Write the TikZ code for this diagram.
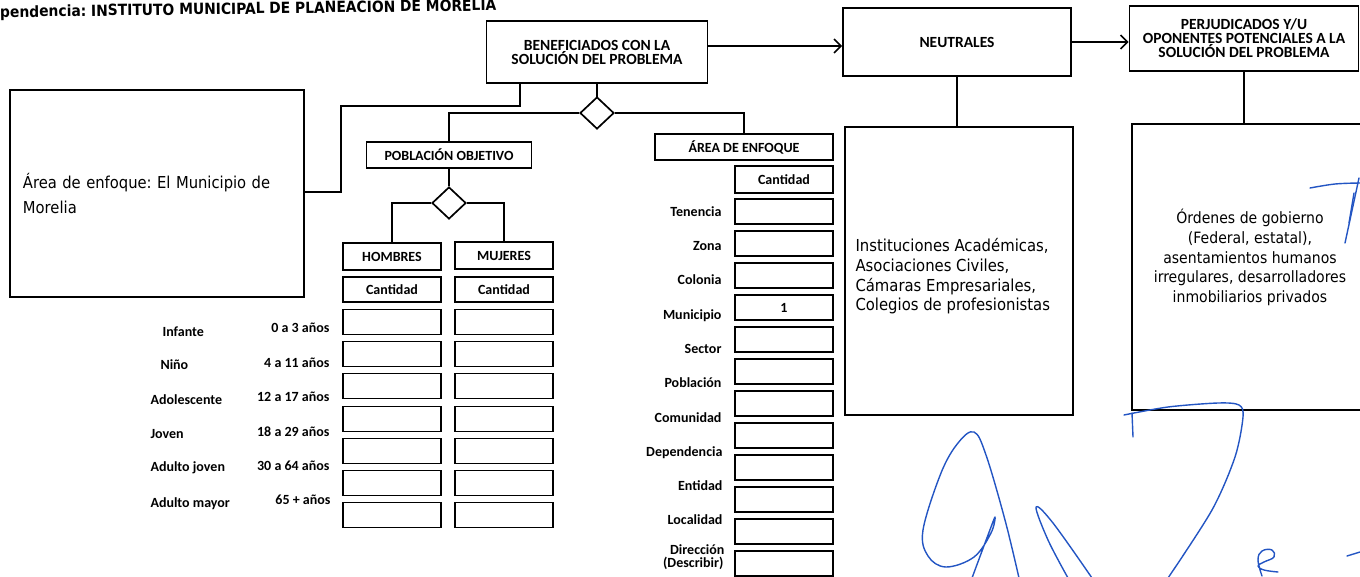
\documentclass[tikz,border=0pt]{standalone}
\usepackage{fontspec}
\setmainfont{Carlito}
\newfontfamily\tahoma{DejaVu Sans Condensed}
\frenchspacing
\usetikzlibrary{shapes.geometric,arrows.meta}
\definecolor{firmaazul}{RGB}{35,85,195}
\tikzstyle{caja}=[draw, line width=1.7pt, inner sep=0pt]
\tikzstyle{rotulo}=[font=\bfseries\fontsize{14}{14}\selectfont]
\tikzstyle{titulo}=[font=\bfseries\fontsize{15.5}{14}\selectfont]
\tikzstyle{celda}=[caja, rotulo, minimum width=98pt, minimum height=25pt]
\tikzstyle{rombo}=[diamond, draw, line width=1.7pt, fill=white, minimum width=34pt, minimum height=32pt, inner sep=0pt]
\tikzstyle{linea}=[line width=1.6pt]
\tikzstyle{flecha}=[line width=1.6pt, -{Straight Barb[length=7pt, width=14pt]}]
\tikzstyle{cuerpo}=[font=\tahoma\fontsize{16.5}{19.7}\selectfont]
\tikzstyle{firma}=[draw=firmaazul, line width=1.4pt, line cap=round, line join=round]

\begin{document}
\begin{tikzpicture}[x=1pt, y=-1pt]
                    \useasboundingbox (0,0) rectangle (1360,576);
                    \clip (0,0) rectangle (1360,576);
                    \node[font=\tahoma\bfseries\fontsize{15.4}{16}\selectfont, anchor=base west, rotate=0.8, inner sep=0pt] (dep) at (0,17.5) {pendencia: INSTITUTO MUNICIPAL DE PLANEACIÓN DE MORELIA};
                    % cabecera
                    \node[caja, titulo, align=center, minimum width=221pt, minimum height=62pt] (ben) at (597,52) {BENEFICIADOS CON LA\\SOLUCIÓN DEL PROBLEMA};
                    \node[caja, titulo, minimum width=228pt, minimum height=68pt] (neu) at (957,42) {NEUTRALES};
                    \node[caja, titulo, align=center, minimum width=229pt, minimum height=65pt] (per) at (1244,38.5) {PERJUDICADOS Y/U\\OPONENTES POTENCIALES A LA\\SOLUCIÓN DEL PROBLEMA};
                    \draw[flecha] ([yshift=6pt]ben.east) -- ([yshift=6pt]ben.east -| neu.west);
                    \draw[flecha] (neu.east) -- (neu.east -| per.west);
                    % cajas grandes
                    \node[caja, font=\tahoma\fontsize{16.4}{25}\selectfont, align=left, text width=268pt, inner xsep=13pt, minimum height=207pt] (izq) at (157,193.5) {Área de enfoque: El Municipio de\\Morelia};
                    \node[caja, minimum width=228pt, minimum height=288pt] (neub) at (959,271) {};
                    \node[cuerpo, anchor=west, align=left] (neut) at (852,276.5) {Instituciones Académicas,\\Asociaciones Civiles,\\Cámaras Empresariales,\\Colegios de profesionistas};
                    \node[caja, minimum width=243pt, minimum height=286pt] (perb) at (1253.5,267) {};
                    \node[cuerpo, font=\tahoma\fontsize{15.6}{19.7}\selectfont, align=center] (pert) at (1250,257.5) {Órdenes de gobierno\\(Federal, estatal),\\asentamientos humanos\\irregulares, desarrolladores\\inmobiliarios privados};
                    \draw[linea] (neu.south) -- (neub.north -| neu.south);
                    \draw[linea] (per.south) -- (perb.north -| per.south);
                    \coordinate (q1) at (520,106);
                    \coordinate (q2) at (341,192);
                    \draw[linea] (ben.south -| q1) -- (q1) -| (q2) -- (izq.east |- q2);
                    % rombos
                    \node[caja, rotulo, minimum width=165pt, minimum height=26pt] (pob) at (449,155) {POBLACIÓN OBJETIVO};
                    \node[caja, rotulo, minimum width=178pt, minimum height=26pt] (area) at (744,147) {ÁREA DE ENFOQUE};
                    \draw[linea] (ben.south) -- (597,113);
                    \node[rombo] (r1) at (597,113) {};
                    \draw[linea] (r1.west) -| (pob.north);
                    \draw[linea] (r1.east) -| (area.north);
                    \node[rombo] (r2) at (449,203) {};
                    \draw[linea] (pob.south) -- (r2.north);
                    \node[celda, minimum height=27pt] (hom) at (392,256.5) {HOMBRES};
                    \node[celda, minimum height=27pt] (muj) at (504,255.5) {MUJERES};
                    \draw[linea] (r2.west) -| (hom.north);
                    \draw[linea] (r2.east) -| (muj.north);
                    % hombres y mujeres
                    \node[celda] (hc) at (392,289.5) {Cantidad};
                    \node[celda] (mc) at (504,289.5) {Cantidad};
                    \node[celda] (h1) at (392,322) {}; \node[celda] (m1) at (504,322) {};
                    \node[celda] (h2) at (392,354) {}; \node[celda] (m2) at (504,354) {};
                    \node[celda] (h3) at (392,386) {}; \node[celda] (m3) at (504,386) {};
                    \node[celda] (h4) at (392,419) {}; \node[celda] (m4) at (504,419) {};
                    \node[celda] (h5) at (392,451) {}; \node[celda] (m5) at (504,451) {};
                    \node[celda] (h6) at (392,483) {}; \node[celda] (m6) at (504,483) {};
                    \node[celda] (h7) at (392,515) {}; \node[celda] (m7) at (504,515) {};
                    \node[rotulo, anchor=base west] (infante) at (159,336) {Infante};
                    \node[rotulo, anchor=base west] (nino) at (157,369) {Niño};
                    \node[rotulo, anchor=base west] (adol) at (147,404) {Adolescente};
                    \node[rotulo, anchor=base west] (joven) at (147,438) {Joven};
                    \node[rotulo, anchor=base west] (adjoven) at (147,471) {Adulto joven};
                    \node[rotulo, anchor=base west] (admayor) at (147,507) {Adulto mayor};
                    \node[rotulo, anchor=base east] (e1) at (333,332) {0 a 3 años};
                    \node[rotulo, anchor=base east] (e2) at (333,367) {4 a 11 años};
                    \node[rotulo, anchor=base east] (e3) at (333,401) {12 a 17 años};
                    \node[rotulo, anchor=base east] (e4) at (333,436) {18 a 29 años};
                    \node[rotulo, anchor=base east] (e5) at (333,470) {30 a 64 años};
                    \node[rotulo, anchor=base east] (e6) at (334,504) {65 + años};
                    % area de enfoque
                    \node[celda, minimum height=27pt] (ac) at (784,179.5) {Cantidad};
                    \node[celda] (a1) at (784,211.5) {};
                    \node[celda] (a2) at (784,243.5) {};
                    \node[celda] (a3) at (784,275.5) {};
                    \node[celda] (a4) at (784,307.5) {1};
                    \node[celda] (a5) at (784,339.5) {};
                    \node[celda] (a6) at (784,371.5) {};
                    \node[celda] (a7) at (784,403.5) {};
                    \node[celda] (a8) at (784,435.5) {};
                    \node[celda] (a9) at (784,467.5) {};
                    \node[celda] (a10) at (784,499.5) {};
                    \node[celda] (a11) at (784,531.5) {};
                    \node[celda] (a12) at (784,563.5) {};
                    \node[rotulo, anchor=base east] (tenencia) at (725,216) {Tenencia};
                    \node[rotulo, anchor=base east] (zona) at (725,250) {Zona};
                    \node[rotulo, anchor=base east] (colonia) at (725,284) {Colonia};
                    \node[rotulo, anchor=base east] (municipio) at (725,319) {Municipio};
                    \node[rotulo, anchor=base east] (sector) at (725,353) {Sector};
                    \node[rotulo, anchor=base east] (poblacion) at (725,387) {Población};
                    \node[rotulo, anchor=base east] (comunidad) at (725,422) {Comunidad};
                    \node[rotulo, anchor=base east] (dependencia) at (726,456) {Dependencia};
                    \node[rotulo, anchor=base east] (entidad) at (726,490) {Entidad};
                    \node[rotulo, anchor=base east] (localidad) at (726,524) {Localidad};
                    \node[rotulo, anchor=base east] (direccion) at (728,554) {Dirección};
                    \node[rotulo, anchor=base east] (describir) at (727,567) {(Describir)};
                    % firmas
                    \draw[firma] plot[smooth, tension=0.6] coordinates {(1310,188) (1335,184) (1360,183)};
                    \draw[firma] (1359,178) -- (1345,243);
                    \draw[firma] (1354,193) -- (1349,223);
                    \draw[firma] plot[smooth, tension=0.6] coordinates {(1019,578) (1005,520) (986,455) (974,432) (958,443) (941,473) (923,530) (928,556) (946,567) (974,557) (991,533) (995,517) (988,535) (972,578)};
                    \draw[firma] plot[smooth, tension=0.6] coordinates {(1068,578) (1048,540) (1036,507) (1053,523) (1092,578)};
                    \draw[firma] plot[smooth, tension=0.5] coordinates {(1124,415) (1168,407) (1218,403) (1239,405) (1243,417) (1235,457) (1212,510) (1168,578)};
                    \draw[firma] (1132,413) -- (1133,437);
                    \draw[firma] plot[smooth, tension=0.7] coordinates {(1262,576) (1258,560) (1262,551) (1272,550) (1274,557) (1264,562) (1258,566) (1264,570) (1278,572)};
                    \draw[firma] (1347,556) -- (1360,552);
                \end{tikzpicture}
\end{document}
